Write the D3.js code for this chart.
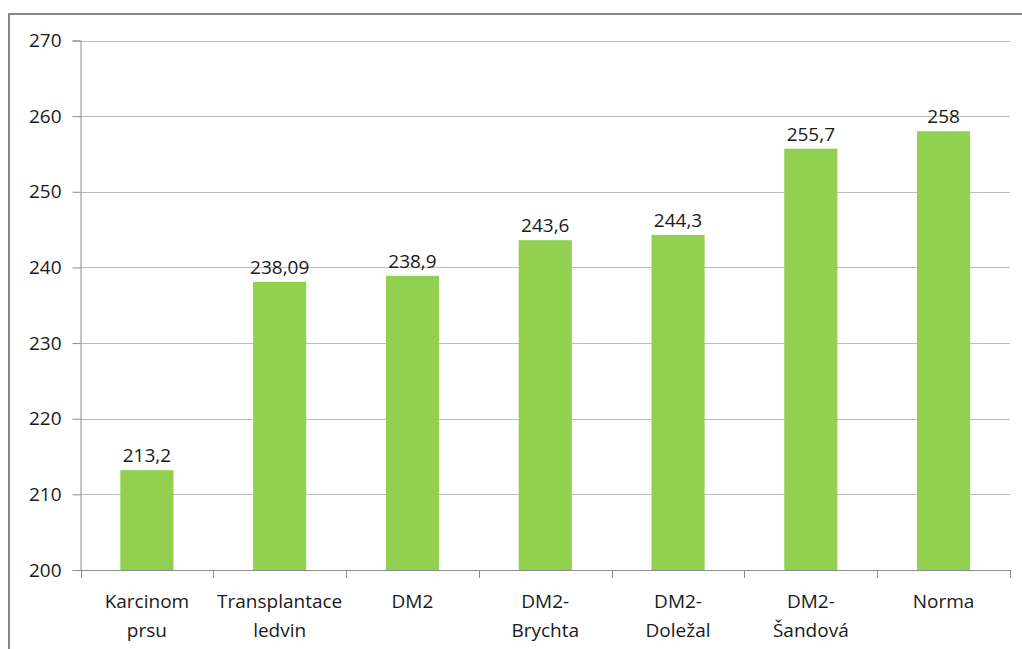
<!DOCTYPE html>
<html>
<head>
<meta charset="utf-8">
<script src="https://cdn.jsdelivr.net/npm/d3@7"></script>
<style>
  html, body { margin: 0; padding: 0; background: #fff; }
  svg { display: block; font-family: "Open Sans", "Liberation Sans", sans-serif; }
</style>
</head>
<body>
<svg id="chart" width="1022" height="649"></svg>
<script>
// Category labels (line breaks split with "\n") and their values
const categories = ["Karcinom\nprsu", "Transplantace\nledvin", "DM2", "DM2-\nBrychta", "DM2-\nDoležal", "DM2-\nŠandová", "Norma"];
const values = [213.2, 238.09, 238.9, 243.6, 244.3, 255.7, 258];
const valueLabels = ["213,2", "238,09", "238,9", "243,6", "244,3", "255,7", "258"];
const yTicks = [200, 210, 220, 230, 240, 250, 260, 270];

const svg = d3.select("#chart");
const W = 1022, H = 649;
const FONT = 19;

// chart frame
svg.append("rect")
  .attr("x", 9).attr("y", 14)
  .attr("width", W + 10).attr("height", H + 10)
  .attr("fill", "none").attr("stroke", "#868686").attr("stroke-width", 2);

const plot = { left: 80.5, right: 1010, top: 40.5, bottom: 570 };

const x = d3.scaleBand()
  .domain(categories)
  .range([plot.left, plot.right])
  .paddingInner(0.6).paddingOuter(0.3);

const y = d3.scaleLinear().domain([200, 270]).range([plot.bottom, plot.top]);

// horizontal gridlines
svg.append("g")
  .selectAll("line")
  .data(yTicks.slice(1))
  .join("line")
  .attr("x1", plot.left).attr("x2", plot.right)
  .attr("y1", d => Math.round(y(d)) + 0.5).attr("y2", d => Math.round(y(d)) + 0.5)
  .attr("stroke", "#bdbdbd").attr("stroke-width", 1);

// bars
svg.append("g")
  .selectAll("rect")
  .data(values)
  .join("rect")
  .attr("x", (d, i) => x(categories[i]))
  .attr("width", x.bandwidth())
  .attr("y", d => y(d))
  .attr("height", d => y(200) - y(d))
  .attr("fill", "#92d050");

// value labels
svg.append("g")
  .selectAll("text")
  .data(values)
  .join("text")
  .attr("x", (d, i) => x(categories[i]) + x.bandwidth() / 2)
  .attr("y", d => y(d) - 8)
  .attr("text-anchor", "middle")
  .attr("font-size", FONT)
  .attr("fill", "#1a1a1a")
  .text((d, i) => valueLabels[i]);

// y axis
const yAxis = d3.axisLeft(y).tickValues(yTicks).tickSize(8).tickPadding(11).tickFormat(d3.format("d"));
const gy = svg.append("g").attr("transform", `translate(${plot.left},0)`).call(yAxis);
gy.select(".domain").attr("stroke", "#8c8c8c");
gy.selectAll(".tick line").attr("stroke", "#8c8c8c");
gy.selectAll(".tick text").attr("font-size", FONT).attr("fill", "#1a1a1a").attr("font-family", "Open Sans, sans-serif");

// x axis baseline and ticks between categories
const boundaries = d3.range(categories.length + 1).map(i => plot.left + i * (plot.right - plot.left) / categories.length);
svg.append("line")
  .attr("x1", plot.left).attr("x2", plot.right)
  .attr("y1", plot.bottom + 0.5).attr("y2", plot.bottom + 0.5)
  .attr("stroke", "#8c8c8c");
svg.append("g")
  .selectAll("line")
  .data(boundaries)
  .join("line")
  .attr("x1", d => Math.round(d) + 0.5).attr("x2", d => Math.round(d) + 0.5)
  .attr("y1", plot.bottom).attr("y2", plot.bottom + 8)
  .attr("stroke", "#8c8c8c");

// category labels
const cat = svg.append("g")
  .selectAll("text")
  .data(categories)
  .join("text")
  .attr("x", d => x(d) + x.bandwidth() / 2)
  .attr("y", 608)
  .attr("text-anchor", "middle")
  .attr("font-size", FONT)
  .attr("fill", "#1a1a1a");
cat.selectAll("tspan")
  .data(d => d.split("\n"))
  .join("tspan")
  .attr("x", function() { return d3.select(this.parentNode).attr("x"); })
  .attr("dy", (d, i) => i === 0 ? 0 : 29)
  .text(d => d);
</script>
</body>
</html>
